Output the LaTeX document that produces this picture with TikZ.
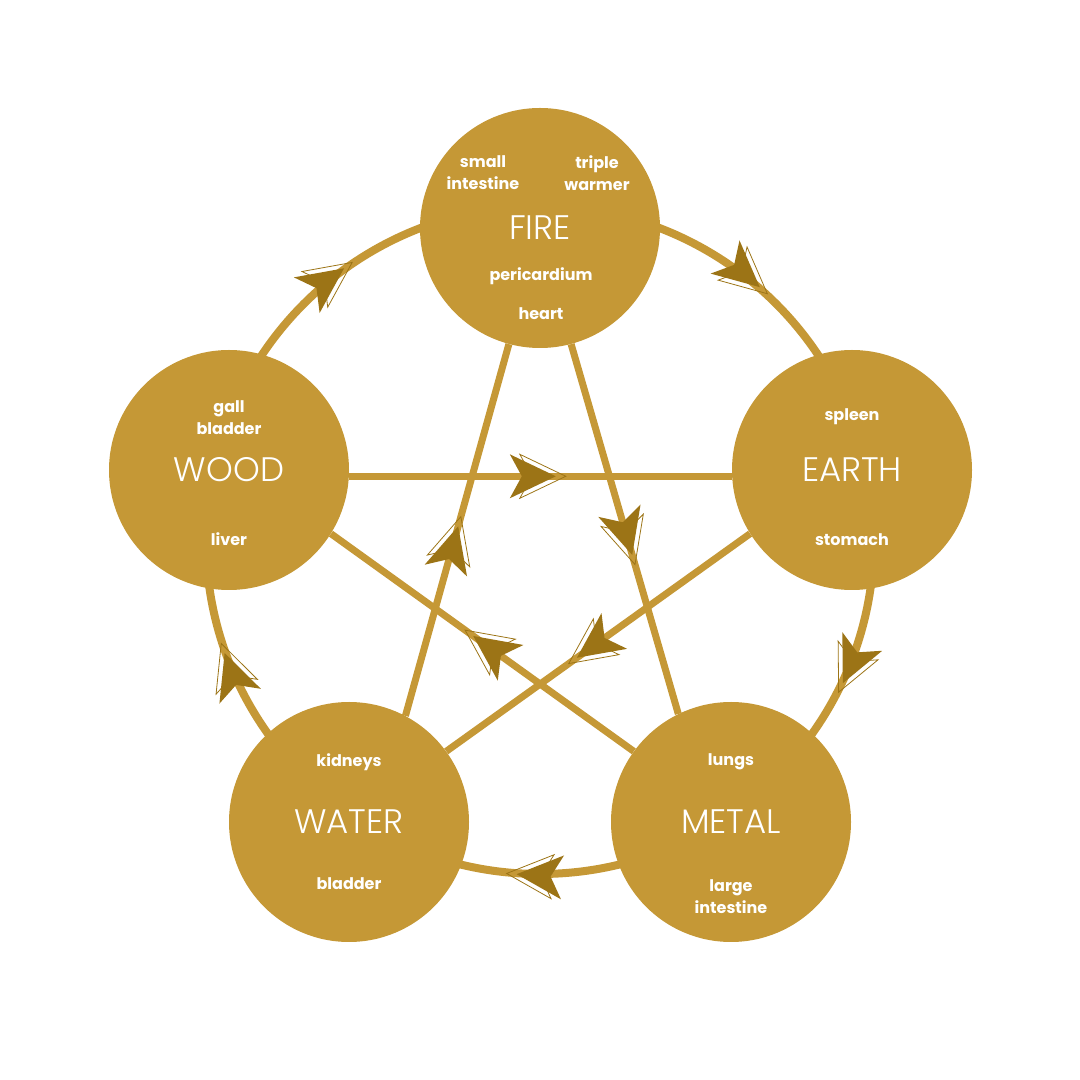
\documentclass[tikz,border=0pt]{standalone}
\usepackage{fontspec}
\setmainfont{Poppins}
\newfontfamily\titlefont{Poppins Light}
\usepackage{xcolor}
\usetikzlibrary{positioning, decorations.markings}

\definecolor{gold}{HTML}{C59836}
\definecolor{darkgold}{HTML}{9C7416}
\pgfdeclarelayer{bg}
\pgfsetlayers{bg,main}

% arrow head: tip at the origin, pointing along +x
\newcommand\dartshape{%
    \draw[darkgold, line width=0.8pt] (10,0) -- (-36,22) -- (-24,0) -- (-36,-22) -- cycle;
    \fill[darkgold] (0,0) -- (-46,22) -- (-34,0) -- (-46,-22) -- cycle;
}

\tikzset{
    element/.style={circle, fill=gold, minimum size=240pt, inner sep=0pt,
        text=white, font=\titlefont\fontsize{34}{40}\selectfont},
    organ/.style={text=white, align=center, font=\bfseries\fontsize{16}{22}\selectfont},
    ring/.style={draw=gold, line width=8pt},
    starline/.style={draw=gold, line width=7pt},
    dart/.pic={\dartshape},
    arrowat/.style={postaction=decorate,
        decoration={markings, mark=at position #1 with {\dartshape}}}
}

\begin{document}
\begin{tikzpicture}[x=1pt, y=1pt]
    \useasboundingbox (0,0) rectangle (1080,1080);
    \coordinate (hub) at (540,540);

    \node[element] (fire)  at (540,852) {FIRE};
    \node[element] (earth) at (852,610) {EARTH};
    \node[element] (metal) at (731,258) {METAL};
    \node[element] (water) at (349,258) {WATER};
    \node[element] (wood)  at (229,610) {WOOD};

    \node[organ] (si) at ([shift={(-57,55)}]fire) {small\\intestine};
    \node[organ] (tw) at ([shift={(57,55)}]fire) {triple\\warmer};
    \node[organ] (pc) at ([shift={(1,-48)}]fire) {pericardium};
    \node[organ] (ht) at ([shift={(1,-86)}]fire) {heart};
    \node[organ] (sp) at ([shift={(0,53)}]earth) {spleen};
    \node[organ] (st) at ([shift={(0,-70)}]earth) {stomach};
    \node[organ] (lu) at ([shift={(0,60)}]metal) {lungs};
    \node[organ] (li) at ([shift={(0,-75)}]metal) {large\\intestine};
    \node[organ] (ki) at ([shift={(0,60)}]water) {kidneys};
    \node[organ] (bl) at ([shift={(0,-62)}]water) {bladder};
    \node[organ] (gb) at ([shift={(0,52)}]wood) {gall\\bladder};
    \node[organ] (lv) at ([shift={(0,-69)}]wood) {liver};

    % generating cycle and controlling star
    \begin{pgfonlayer}{bg}
        \draw[ring] (hub) circle[radius=334];
        \draw[starline, arrowat=0.54] (wood.-3) -- (earth.183);
        \draw[starline, arrowat=0.51] (water.62) -- (fire.-105);
        \draw[starline, arrowat=0.57] (fire.-75) -- (metal.116);
        \draw[starline, arrowat=0.57] (earth.212) -- (water.36);
        \draw[starline, arrowat=0.53] (metal.144) -- (wood.-32);
    \end{pgfonlayer}

    \pic[rotate=35.8] at ([shift={(125.8:335)}]hub) {dart};
    \pic[rotate=-41]  at ([shift={(49:335)}]hub) {dart};
    \pic[rotate=-115] at ([shift={(-25.3:335)}]hub) {dart};
    \pic[rotate=176]  at ([shift={(-94:335)}]hub) {dart};
    \pic[rotate=109.7] at ([shift={(199.7:335)}]hub) {dart};
\end{tikzpicture}
\end{document}
